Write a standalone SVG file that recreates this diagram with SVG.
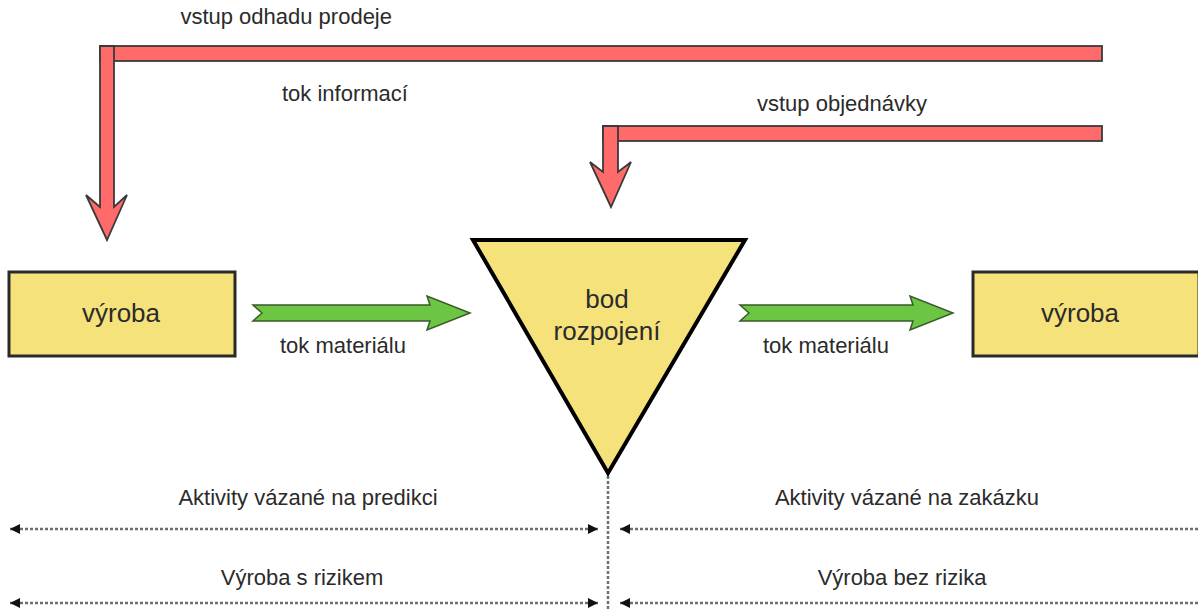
<svg xmlns="http://www.w3.org/2000/svg" width="1198" height="609" viewBox="0 0 1198 609">
  <style>
    text { font-family: "Liberation Sans", Arial, sans-serif; fill: #2b2b2b; }
    .big { font-size: 26px; text-anchor: middle; }
    .small { font-size: 22px; }
    .mid { text-anchor: middle; }
    .node { fill: #f6e27a; stroke: #2a2a2a; stroke-width: 3; }
    .decoupling { fill: #f6e27a; stroke: #000; stroke-width: 4; stroke-linejoin: miter; }
    .info { fill: #ff6b6b; stroke: #3a3a3a; stroke-width: 1.8; stroke-linejoin: miter; }
    .material { fill: #6cc644; stroke: #3a5a2a; stroke-width: 1.5; }
    .span { fill: none; stroke: #6e6e6e; stroke-width: 2.5; stroke-dasharray: 3 2; }
  </style>
  <defs>
    <marker id="head" viewBox="0 0 10 10" refX="10" refY="5" markerWidth="10" markerHeight="10" markerUnits="userSpaceOnUse" orient="auto-start-reverse">
      <path d="M0,0 L10,5 L0,10 Z" fill="#111"/>
    </marker>
  </defs>

  <!-- information flows (red) -->
  <g id="connectors">
    <g id="forecast-input">
      <rect class="info" x="100" y="46" width="1002" height="15"/>
      <polygon class="info" points="100,46 114,46 114,207 127,195 107,240 86,195 100,207"/>
    </g>
    <g id="order-input">
      <rect class="info" x="603" y="126" width="499" height="15"/>
      <polygon class="info" points="603,126 618,126 618,172 631,162 611,207 590,162 603,172"/>
    </g>
    <!-- material flows (green) -->
    <polygon id="material-left" class="material" points="253,305 430,305 427,296 470,313 427,330 430,321 253,321 262,313"/>
    <polygon id="material-right" class="material" points="740,305 913,305 910,296 953,313 910,330 913,321 740,321 749,313"/>
    <!-- span indicators -->
    <line class="span" x1="608" y1="476" x2="608" y2="609"/>
    <line class="span" x1="10" y1="529" x2="598" y2="529" marker-start="url(#head)" marker-end="url(#head)"/>
    <line class="span" x1="620" y1="529" x2="1198" y2="529" marker-start="url(#head)"/>
    <line class="span" x1="10" y1="603" x2="598" y2="603" marker-start="url(#head)" marker-end="url(#head)"/>
    <line class="span" x1="620" y1="603" x2="1198" y2="603" marker-start="url(#head)"/>
  </g>

  <g id="production-left">
    <rect class="node" x="9" y="272" width="226" height="84"/>
    <text class="big" x="121" y="322">výroba</text>
  </g>

  <g id="decoupling-point">
    <polygon class="decoupling" points="473,240 745,240 608,473"/>
    <text class="big" x="607" y="308">bod</text>
    <text class="big" x="607" y="340">rozpojení</text>
  </g>

  <g id="production-right">
    <rect class="node" x="973" y="272" width="226" height="84"/>
    <text class="big" x="1080" y="322">výroba</text>
  </g>

  <g id="labels">
    <text class="small" x="392" y="24" text-anchor="end">vstup odhadu prodeje</text>
    <text class="small" x="282" y="101">tok informací</text>
    <text class="small" x="757" y="111">vstup objednávky</text>
    <text class="small" x="280" y="353">tok materiálu</text>
    <text class="small" x="763" y="353">tok materiálu</text>
    <text class="small mid" x="308" y="505">Aktivity vázané na predikci</text>
    <text class="small mid" x="302" y="585">Výroba s rizikem</text>
    <text class="small mid" x="907" y="505">Aktivity vázané na zakázku</text>
    <text class="small mid" x="902" y="585">Výroba bez rizika</text>
  </g>
</svg>
